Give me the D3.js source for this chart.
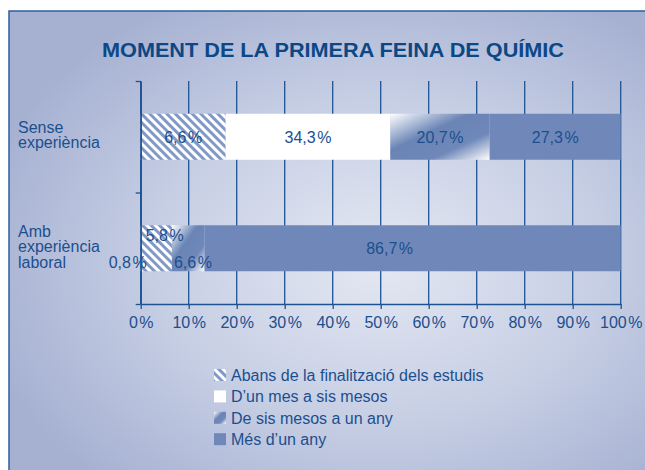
<!DOCTYPE html>
<html>
<head>
<meta charset="utf-8">
<script src="https://cdn.jsdelivr.net/npm/d3@7"></script>
<style>
    body { margin: 0; background: #ffffff; }
    text { font-family: "Liberation Sans", Arial, sans-serif; }
</style>
</head>
<body>
<div id="wrapper"></div>
<script>
// Data
const categories = ["Sense experiència", "Amb experiència laboral"];
const categoryLines = [["Sense", "experiència"], ["Amb", "experiència", "laboral"]];
const seriesNames = [
    "Abans de la finalització dels estudis",
    "D\u2019un mes a sis mesos",
    "De sis mesos a un any",
    "Més d\u2019un any"
];
// widths as drawn in the original (percent)
const senseValues = [17.7, 34.3, 20.7, 27.3];
const ambValues = [6.5, 0, 6.8, 86.7];
// labels printed on the original
const senseLabels = ["6,6", "34,3", "20,7", "27,3"];
const ambLabels = ["0,8", "5,8", "6,6", "86,7"];
const xTicks = [0, 10, 20, 30, 40, 50, 60, 70, 80, 90, 100];
const title = "MOMENT DE LA PRIMERA FEINA DE QUÍMIC";

// Constants
const WIDTH = 645;
const HEIGHT = 470;
const BAR_HEIGHT = 46;
const COLOR = {
    TEXT: "#1b4f8e",
    TITLE: "#0c4786",
    AXIS: "#1d5393",
    SOLID: "#7088b9",
    HATCH: "#8199c7",
};

const dimensions = {
    width: WIDTH,
    height: HEIGHT,
    plot: { left: 140.7, right: 620.7, top: 81, bottom: 304 },
};

function drawChart() {
    const svg = d3.select("#wrapper")
        .append("svg")
        .attr("width", dimensions.width)
        .attr("height", dimensions.height);

    const defs = svg.append("defs");

    const bg = defs.append("radialGradient")
        .attr("id", "bg")
        .attr("cx", 0.56).attr("cy", 0.52).attr("r", 0.62);
    bg.append("stop").attr("offset", 0).attr("stop-color", "#e4e8f2");
    bg.append("stop").attr("offset", 0.55).attr("stop-color", "#c6cee4");
    bg.append("stop").attr("offset", 1).attr("stop-color", "#a6b1d2");

    const hatch = defs.append("pattern")
        .attr("id", "hatch")
        .attr("patternUnits", "userSpaceOnUse")
        .attr("width", 6).attr("height", 6)
        .attr("patternTransform", "rotate(-45)");
    hatch.append("rect").attr("width", 6).attr("height", 6).attr("fill", "#ffffff");
    hatch.append("rect").attr("width", 3).attr("height", 6).attr("fill", COLOR.HATCH);

    const grad = defs.append("linearGradient")
        .attr("id", "fade")
        .attr("x1", 0).attr("y1", 0).attr("x2", 1).attr("y2", 1);
    grad.append("stop").attr("offset", 0).attr("stop-color", "#ffffff");
    grad.append("stop").attr("offset", 0.4).attr("stop-color", "#6a84b6");
    grad.append("stop").attr("offset", 0.7).attr("stop-color", "#6f88b9");
    grad.append("stop").attr("offset", 1).attr("stop-color", "#ffffff");

    const fills = ["url(#hatch)", "#ffffff", "url(#fade)", COLOR.SOLID];

    // Panel
    svg.append("rect")
        .attr("x", 9).attr("y", 11)
        .attr("width", 660).attr("height", 480)
        .attr("fill", "url(#bg)")
        .attr("stroke", "#2b5f9f")
        .attr("stroke-width", 1.5);

    // Title
    svg.append("text")
        .attr("x", 333).attr("y", 57)
        .attr("text-anchor", "middle")
        .attr("font-size", 21)
        .attr("font-weight", "bold")
        .attr("fill", COLOR.TITLE)
        .attr("textLength", 462)
        .attr("lengthAdjust", "spacingAndGlyphs")
        .text(title);

    // Scales
    const xScale = d3.scaleLinear()
        .domain([0, 100])
        .range([dimensions.plot.left, dimensions.plot.right]);

    const yScale = d3.scalePoint()
        .domain(categories)
        .range([dimensions.plot.top, dimensions.plot.bottom])
        .padding(0.5);

    const yEdges = d3.scaleLinear()
        .domain([0, categories.length])
        .range([dimensions.plot.top, dimensions.plot.bottom]);

    // Gridlines
    svg.append("g")
        .selectAll("line")
        .data(xTicks)
        .join("line")
        .attr("x1", d => xScale(d)).attr("x2", d => xScale(d))
        .attr("y1", dimensions.plot.top).attr("y2", dimensions.plot.bottom)
        .attr("stroke", COLOR.AXIS)
        .attr("stroke-width", 1.3);

    // Bars
    const rows = [
        { cat: categories[0], values: senseValues, labels: senseLabels },
        { cat: categories[1], values: ambValues, labels: ambLabels },
    ];
    rows.forEach(row => {
        row.segments = Array.from(d3.cumsum(row.values)).map((end, i) => ({
            start: end - row.values[i], end, i, label: row.labels[i], cat: row.cat
        }));
    });

    svg.append("g")
        .selectAll("g")
        .data(rows)
        .join("g")
        .selectAll("rect")
        .data(d => d.segments)
        .join("rect")
        .attr("x", d => xScale(d.start))
        .attr("width", d => xScale(d.end) - xScale(d.start))
        .attr("y", d => yScale(d.cat) - BAR_HEIGHT / 2)
        .attr("height", BAR_HEIGHT)
        .attr("fill", d => fills[d.i]);

    // Value labels
    const percentText = (sel, num) => {
        sel.append("tspan").text(num);
        sel.append("tspan").attr("dx", 1.5).text("%");
    };

    // first bar: centred in each segment
    rows[0].segments.forEach(s => {
        const t = svg.append("text")
            .attr("x", xScale((s.start + s.end) / 2))
            .attr("y", yScale(rows[0].cat) + 6)
            .attr("text-anchor", "middle")
            .attr("font-size", 16)
            .attr("fill", COLOR.TEXT);
        percentText(t, s.label);
    });

    // second bar: placed as in the original
    const seg = rows[1].segments;
    const cy = yScale(rows[1].cat);
    const place = [
        { x: xScale(seg[0].start) + 6, y: cy + 20, anchor: "end" },
        { x: xScale(seg[0].start) + 5, y: cy - 7, anchor: "start" },
        { x: xScale(seg[2].start) + 2, y: cy + 20, anchor: "start" },
        { x: xScale((seg[3].start + seg[3].end) / 2) - 23, y: cy + 6, anchor: "middle" },
    ];
    seg.forEach((s, i) => {
        const t = svg.append("text")
            .attr("x", place[i].x)
            .attr("y", place[i].y)
            .attr("text-anchor", place[i].anchor)
            .attr("font-size", 16)
            .attr("fill", COLOR.TEXT);
        percentText(t, s.label);
    });

    // Axes
    const xAxis = svg.append("g")
        .attr("transform", `translate(0, ${dimensions.plot.bottom})`)
        .call(d3.axisBottom(xScale)
            .tickValues(xTicks)
            .tickSize(5)
            .tickSizeOuter(0)
            .tickPadding(8)
            .tickFormat(() => ""));
    xAxis.select(".domain").attr("stroke", COLOR.AXIS).attr("stroke-width", 1.5);
    xAxis.selectAll(".tick line").attr("stroke", COLOR.AXIS).attr("stroke-width", 1.3);
    xAxis.selectAll(".tick text").each(function (d) {
        const t = d3.select(this)
            .attr("font-size", 16)
            .attr("font-family", "Liberation Sans, Arial, sans-serif")
            .attr("fill", COLOR.TEXT);
        percentText(t, d);
    });

    const yAxis = svg.append("g")
        .attr("transform", `translate(${dimensions.plot.left}, 0)`)
        .call(d3.axisLeft(yEdges)
            .tickValues(d3.range(categories.length + 1))
            .tickSize(5)
            .tickSizeOuter(0)
            .tickFormat(""));
    yAxis.select(".domain").attr("stroke", COLOR.AXIS).attr("stroke-width", 1.5);
    yAxis.selectAll(".tick line").attr("stroke", COLOR.AXIS).attr("stroke-width", 1.3);

    // Category labels
    categories.forEach((c, i) => {
        const lines = categoryLines[i];
        const first = yScale(c) + 4 - (lines.length - 1) * 15.3 / 2;
        const t = svg.append("text")
            .attr("x", 18)
            .attr("y", first)
            .attr("font-size", 16)
            .attr("fill", COLOR.TEXT);
        lines.forEach((l, j) => {
            t.append("tspan").attr("x", 18).attr("dy", j === 0 ? 0 : 15.3).text(l);
        });
    });

    // Legend
    const legend = svg.append("g")
        .attr("transform", "translate(214, 375)")
        .selectAll("g")
        .data(seriesNames)
        .join("g")
        .attr("transform", (d, i) => `translate(0, ${i * 21.4})`);
    legend.append("rect")
        .attr("x", 0).attr("y", -6)
        .attr("width", 12).attr("height", 12)
        .attr("fill", (d, i) => fills[i]);
    legend.append("text")
        .attr("x", 17).attr("y", 6)
        .attr("font-size", 16)
        .attr("fill", COLOR.TEXT)
        .text(d => d);
}
drawChart();
</script>
</body>
</html>
